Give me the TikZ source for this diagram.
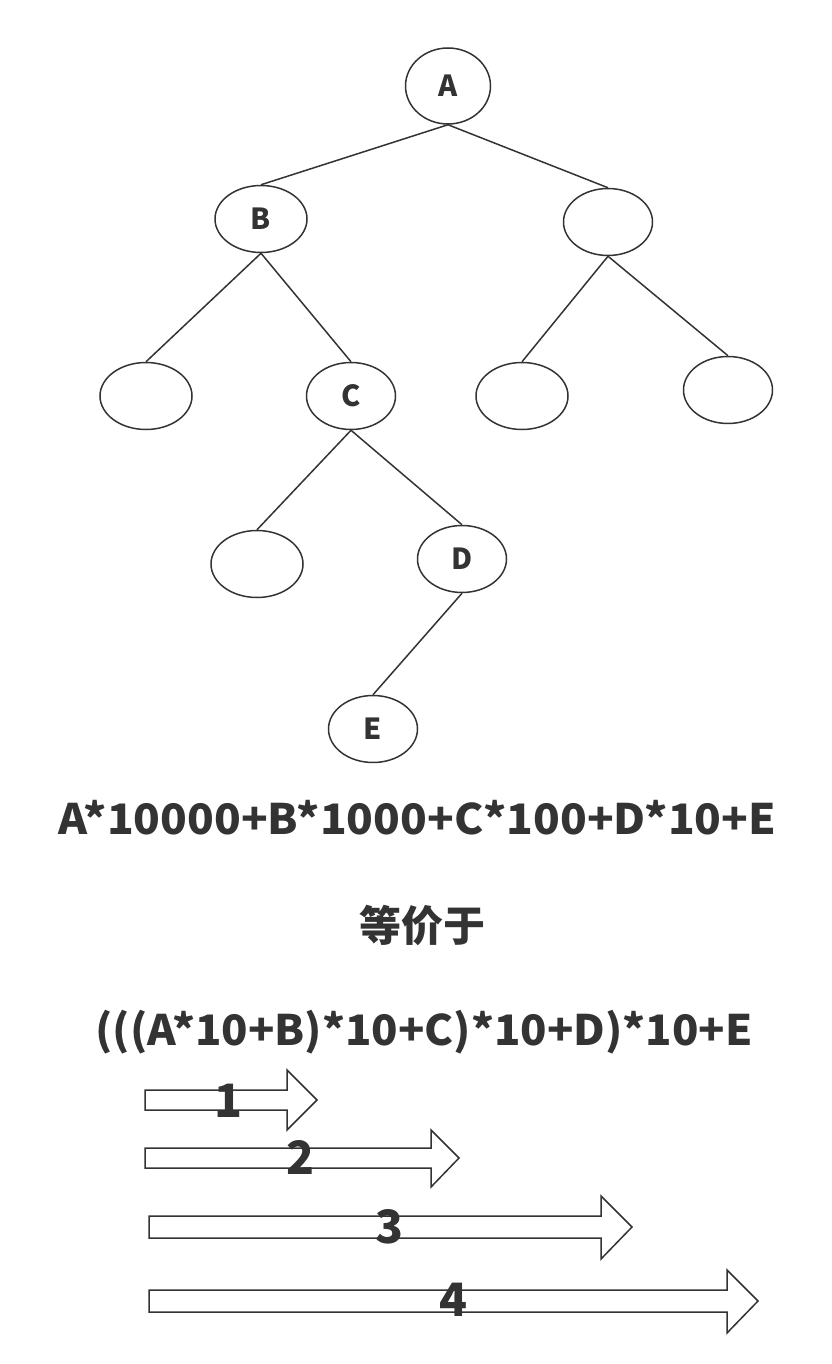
\documentclass[tikz,border=0pt]{standalone}
\usepackage{fontspec}
\setmainfont{Noto Sans CJK SC}
\usetikzlibrary{shapes.geometric}
\definecolor{ink}{HTML}{333333}
\tikzset{
  tnode/.style={ellipse, draw=ink, line width=1.5pt, inner sep=0pt, text=ink, font=\fontsize{29}{29}\selectfont\bfseries},
  edge/.style={draw=ink, line width=1.5pt},
  bigarrow/.style={draw=ink, line width=1.5pt, fill=white},
  numlabel/.style={anchor=base, inner sep=0pt, text=ink, font=\fontsize{46}{46}\selectfont\bfseries},
  formula/.style={inner sep=0pt, text=ink, font=\fontsize{42}{42}\selectfont\bfseries}
}
\begin{document}
\begin{tikzpicture}[x=1pt,y=-1pt]
\useasboundingbox (0,0) rectangle (831,1364);
% tree nodes
\node[tnode, minimum width=85pt, minimum height=76pt] (A) at (448,86) {A};
\node[tnode, minimum width=92pt, minimum height=67pt] (B) at (261,219) {B};
\node[tnode, minimum width=89pt, minimum height=67pt] (R) at (608,222) {};
\node[tnode, minimum width=92pt, minimum height=67pt] (LL) at (146,396) {};
\node[tnode, minimum width=89pt, minimum height=67pt] (C) at (351,396) {C};
\node[tnode, minimum width=92pt, minimum height=67pt] (RL) at (522,396) {};
\node[tnode, minimum width=89pt, minimum height=67pt] (RR) at (728,390) {};
\node[tnode, minimum width=92pt, minimum height=67pt] (CL) at (257,564) {};
\node[tnode, minimum width=89pt, minimum height=67pt] (D) at (462,559) {D};
\node[tnode, minimum width=89pt, minimum height=67pt] (E) at (373,729) {E};
% edges
\draw[edge] (A.south) -- (B.north);
\draw[edge] (A.south) -- (R.north);
\draw[edge] (B.south) -- (LL.north);
\draw[edge] (B.south) -- (C.north);
\draw[edge] (R.south) -- (RL.north);
\draw[edge] (R.south) -- (RR.north);
\draw[edge] (C.south) -- (CL.north);
\draw[edge] (C.south) -- (D.north);
\draw[edge] (D.south) -- (E.north);
% formulas
\node[formula, anchor=base] (f1) at (417.5,834) {\resizebox{717pt}{\height}{A*10000+B*1000+C*100+D*10+E}};
\node[formula] (f2) at (422,926) {等价于};
\node[formula, anchor=base] (f3) at (424,1045) {\resizebox{657pt}{\height}{(((A*10+B)*10+C)*10+D)*10+E}};
% arrows
\draw[bigarrow] (145,1090) -- (287,1090) -- (287,1070) -- (317,1100) -- (287,1130) -- (287,1110) -- (145,1110) -- cycle;
\draw[bigarrow] (145,1148) -- (431,1148) -- (431,1130) -- (459,1158) -- (431,1187) -- (431,1168) -- (145,1168) -- cycle;
\draw[bigarrow] (149,1216) -- (601,1216) -- (601,1196) -- (632,1227) -- (601,1259) -- (601,1238) -- (149,1238) -- cycle;
\draw[bigarrow] (149,1290) -- (727,1290) -- (727,1270) -- (758,1301) -- (727,1333) -- (727,1312) -- (149,1312) -- cycle;
\node[numlabel] (n1) at (229,1117) {1};
\node[numlabel] (n2) at (301,1174) {2};
\node[numlabel] (n3) at (390,1243) {3};
\node[numlabel] (n4) at (453,1316) {4};
\end{tikzpicture}
\end{document}
